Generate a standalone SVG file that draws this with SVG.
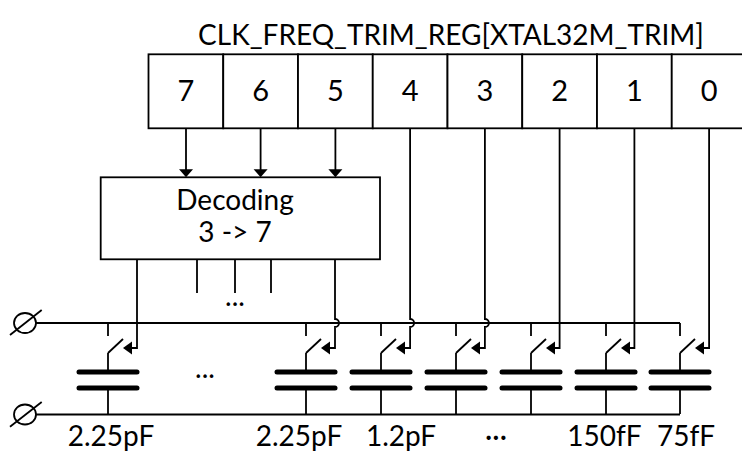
<svg xmlns="http://www.w3.org/2000/svg" width="742" height="452" viewBox="0 0 742 452">
<style>
  .ln{fill:none;stroke:#000;stroke-width:1.8;stroke-linecap:butt}
  .box{fill:#fff;stroke:#000;stroke-width:1.8}
  .plate{fill:none;stroke:#000;stroke-width:5;stroke-linecap:round}
  .ah{fill:#000;stroke:none}
  .t{font-family:Lato,Carlito,"Liberation Sans",sans-serif;font-size:28px;fill:#000;text-anchor:middle}
  .d{font-size:29px}
</style>
<defs>
  <g id="cell">
    <line class="ln" x1="0" y1="323" x2="0" y2="336"/>
    <line class="ln" x1="0" y1="353" x2="15" y2="339"/>
    <line class="ln" x1="0" y1="353" x2="0" y2="372"/>
    <line class="plate" x1="-29" y1="372" x2="29" y2="372"/>
    <line class="plate" x1="-29" y1="388" x2="29" y2="388"/>
    <line class="ln" x1="0" y1="388" x2="0" y2="414"/>
    <polygon class="ah" points="15,348 24,341.5 24,354.5"/>
  </g>
  <polygon id="ahd" class="ah" points="-7,-8 7,-8 0,0"/>
</defs>

<text class="t" x="451" y="45">CLK_FREQ_TRIM_REG[XTAL32M_TRIM]</text>

<g id="reg-bit-7"><rect class="box" x="148.5" y="54.3" width="74.75" height="74"/><text class="t d" x="185.9" y="101">7</text></g>
<g id="reg-bit-6"><rect class="box" x="223.25" y="54.3" width="74.75" height="74"/><text class="t d" x="260.6" y="101">6</text></g>
<g id="reg-bit-5"><rect class="box" x="298" y="54.3" width="74.75" height="74"/><text class="t d" x="335.4" y="101">5</text></g>
<g id="reg-bit-4"><rect class="box" x="372.75" y="54.3" width="74.75" height="74"/><text class="t d" x="410.1" y="101">4</text></g>
<g id="reg-bit-3"><rect class="box" x="447.5" y="54.3" width="74.75" height="74"/><text class="t d" x="484.9" y="101">3</text></g>
<g id="reg-bit-2"><rect class="box" x="522.25" y="54.3" width="74.75" height="74"/><text class="t d" x="559.6" y="101">2</text></g>
<g id="reg-bit-1"><rect class="box" x="597" y="54.3" width="74.75" height="74"/><text class="t d" x="634.4" y="101">1</text></g>
<g id="reg-bit-0"><rect class="box" x="671.75" y="54.3" width="74.75" height="74"/><text class="t d" x="709.1" y="101">0</text></g>

<g id="decoder">
  <rect class="box" x="100.7" y="177.3" width="279.3" height="82"/>
  <text class="t" x="235" y="210">Decoding</text>
  <text class="t" x="235" y="242">3 -&gt; 7</text>
  <line class="ln" x1="197" y1="259.3" x2="197" y2="293"/>
  <line class="ln" x1="235" y1="259.3" x2="235" y2="293"/>
  <line class="ln" x1="271" y1="259.3" x2="271" y2="293"/>
  <text class="t" x="235" y="306">...</text>
</g>

<g id="term-top">
  <ellipse class="ln" cx="25" cy="323" rx="11" ry="10"/>
  <line class="ln" x1="10" y1="335" x2="41.7" y2="310"/>
</g>
<g id="term-bottom">
  <ellipse class="ln" cx="25" cy="414.5" rx="11" ry="10"/>
  <line class="ln" x1="10" y1="426.7" x2="41.7" y2="402"/>
</g>

<g id="cap-1"><use href="#cell" x="108"/></g>
<g id="cap-2"><use href="#cell" x="306"/></g>
<g id="cap-3"><use href="#cell" x="381"/></g>
<g id="cap-4"><use href="#cell" x="456"/></g>
<g id="cap-5"><use href="#cell" x="531"/></g>
<g id="cap-6"><use href="#cell" x="606"/></g>
<g id="cap-7"><use href="#cell" x="680"/></g>

<text class="t" x="205" y="378">...</text>

<g id="connectors">
  <path class="ln" d="M36,323 H680"/>
  <path class="ln" d="M36,414.5 H680"/>
  <line class="ln" x1="186" y1="128.3" x2="186" y2="170"/>
  <line class="ln" x1="260.6" y1="128.3" x2="260.6" y2="170"/>
  <line class="ln" x1="335.4" y1="128.3" x2="335.4" y2="170"/>
  <use href="#ahd" x="186" y="177.3"/>
  <use href="#ahd" x="260.6" y="177.3"/>
  <use href="#ahd" x="335.4" y="177.3"/>
  <path class="ln" d="M137,259.3 V348 H131"/>
  <path class="ln" d="M335,259.3 V319 A4,4 0 0 1 335,327 V348 H329"/>
  <path class="ln" d="M410.1,128.3 V319 A4,4 0 0 1 410.1,327 V348 H404"/>
  <path class="ln" d="M484.9,128.3 V319 A4,4 0 0 1 484.9,327 V348 H479"/>
  <path class="ln" d="M559.6,128.3 V348 H554"/>
  <path class="ln" d="M634.4,128.3 V348 H629"/>
  <path class="ln" d="M709.1,128.3 V348 H703"/>
</g>

<g id="labels">
  <text class="t" x="111" y="446">2.25pF</text>
  <text class="t" x="299" y="446">2.25pF</text>
  <text class="t" x="401" y="446">1.2pF</text>
  <text class="t" x="496" y="446">···</text>
  <text class="t" x="604.5" y="446">150fF</text>
  <text class="t" x="686" y="446">75fF</text>
</g>
</svg>
